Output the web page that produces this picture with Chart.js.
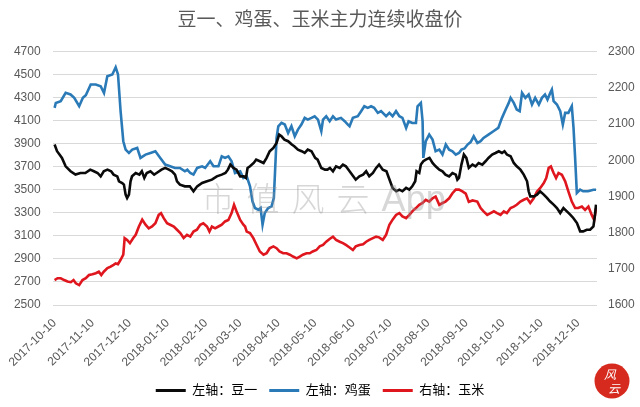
<!DOCTYPE html>
<html>
<head>
<meta charset="utf-8">
<script src="https://cdn.jsdelivr.net/npm/chart.js@4.4.1/dist/chart.umd.min.js"></script>
<style>
  html, body { margin: 0; padding: 0; background: #fff; }
  #wrap { width: 640px; height: 407px; position: relative; }
</style>
</head>
<body>
<div id="wrap"><canvas id="c"></canvas></div>
<script>
// 月度刻度（每月10日）
const tickLabels = ['2017-10-10', '2017-11-10', '2017-12-10', '2018-01-10', '2018-02-10', '2018-03-10', '2018-04-10',
  '2018-05-10', '2018-06-10', '2018-07-10', '2018-08-10', '2018-09-10', '2018-10-10', '2018-11-10', '2018-12-10'];

// 各序列：距 2017-10-10 的天数 + 收盘价
const soyDays = [0, 2, 4, 6, 9, 13, 17, 21, 25, 29, 32, 35, 37.5, 40, 43, 46, 48, 51, 52.4, 55, 56.4, 57.8, 59, 60.5, 61.8, 63, 66, 69, 71, 73, 75, 78, 81, 83, 87, 90, 93, 95.5, 98, 99.6, 102, 106, 110,
  113, 116, 120, 124, 128, 132, 136, 139, 141, 143, 145.5, 148, 151, 154, 155.7, 157, 159, 162, 164, 167, 170, 172.5, 175, 178, 180.6, 182.7, 184.6, 187, 190, 193, 195, 198, 201, 203.5, 206, 209, 212, 214, 217, 220,
  222, 224, 226.5, 229, 232, 234.6, 237, 240, 243, 245, 248, 251, 253.5, 256, 259, 261.6, 264, 267, 270, 272, 275, 278, 280.5, 283, 286, 288.6, 291, 293.4, 294.5, 296.7, 298, 300, 302, 305, 307.5, 310, 313, 315.6, 318, 321, 323.7, 326.4, 327.7, 329,
  331, 333, 335, 337, 340, 342.5, 345, 348, 350.6, 353, 356, 358.7, 361.4, 364, 366, 368, 371, 373.6, 376, 379, 381.7, 384.4, 385.7, 387, 390, 392.5, 395, 398, 400.6, 403, 406, 408.7, 411.4, 414, 416.8, 419.5, 422, 425, 427.6, 430, 433, 435.7, 438.4, 439.7, 440.5];
const soyVals = [3894, 3836, 3807, 3778, 3705, 3662, 3633, 3647, 3647, 3676, 3662, 3647, 3618, 3662, 3676, 3662, 3633, 3618, 3575, 3560, 3546, 3459, 3430, 3459, 3575, 3618, 3647, 3633, 3662, 3604, 3647, 3662, 3633, 3647, 3676, 3691, 3676, 3662, 3633, 3575, 3546, 3531, 3531,
  3488, 3531, 3560, 3575, 3589, 3618, 3633, 3647, 3676, 3720, 3691, 3676, 3618, 3618, 3604, 3691, 3705, 3734, 3763, 3749, 3734, 3778, 3836, 3865, 3908, 3981, 3966, 3937, 3923, 3894, 3879, 3850, 3836, 3821, 3850, 3836, 3778, 3763, 3691, 3676,
  3676, 3691, 3662, 3705, 3691, 3720, 3705, 3662, 3618, 3589, 3618, 3633, 3662, 3618, 3647, 3691, 3720, 3676, 3662, 3604, 3517, 3488, 3502, 3488, 3517, 3502, 3531, 3575, 3662, 3647, 3720, 3749, 3763, 3778, 3734, 3705, 3676, 3662, 3633, 3618, 3647, 3633, 3589, 3604,
  3720, 3807, 3778, 3691, 3720, 3705, 3734, 3720, 3749, 3778, 3807, 3821, 3836, 3821, 3836, 3807, 3792, 3734, 3705, 3676, 3633, 3575, 3488, 3444, 3444, 3459, 3488, 3459, 3430, 3401, 3372, 3343, 3299, 3343, 3314, 3285, 3256, 3212, 3140, 3140, 3154, 3154, 3183, 3285, 3372];

const eggDays = [0, 1, 5, 9, 13, 16, 20, 23, 25.4, 29.4, 33.5, 37.5, 40.2, 42.9, 47, 49.7, 51.6, 53.7, 55.9, 57.8, 60.5, 63.2, 67.2, 69.9, 74, 78, 82, 86, 90, 94, 98, 102, 106,
  108, 110.4, 113, 116, 120, 122.5, 126.6, 129.3, 133.3, 136, 138.7, 141.4, 144, 146.8, 151, 153.6, 156.3, 159, 161, 163, 165.7, 167.6, 169.2, 171, 173.8, 176.5, 178.4, 180.6, 182, 184.6, 187.3, 190, 192.7, 195.4, 198, 200.8, 203.5, 206, 209, 211.6, 214.3, 217, 218.4, 221,
  223.8, 226.5, 229, 233, 236, 238.6, 240, 242.7, 246.7, 249.4, 252, 254.8, 257.5, 260, 263, 265.6, 269.7, 272.4, 275, 277.8, 280.5, 283, 286, 288, 291, 294, 295.3, 298, 299.4, 300, 302, 304.8, 307.5, 310, 313, 315.6, 318.3, 321, 323.7, 326.4, 329,
  331, 333.5, 336, 338.5, 341, 344, 346.6, 349, 353, 357, 361, 364, 367, 369.5, 371, 373.6, 376, 378.4, 380.3, 383, 385.7, 388.4, 391, 394, 396.5, 399, 401, 403.3, 404.6, 406, 408.7, 411.4, 413.5, 415.4, 418, 420.8, 422.2, 423.5, 424.9, 427.6, 430, 434, 438.4, 440.5];
const eggVals = [4213, 4256, 4271, 4343, 4329, 4300, 4227, 4300, 4323, 4416, 4416, 4401, 4343, 4488, 4503, 4566, 4503, 4184, 3923, 3850, 3821, 3850, 3865, 3778, 3807, 3821, 3836, 3778, 3720, 3705, 3691, 3691, 3662,
  3676, 3647, 3633, 3691, 3705, 3691, 3749, 3705, 3705, 3792, 3778, 3792, 3749, 3647, 3662, 3604, 3618, 3531, 3401, 3343, 3328, 3343, 3198, 3299, 3343, 3357, 3430, 3952, 4053, 4082, 4068, 3995, 4053, 3966, 4024, 4068, 4126, 4111, 4126, 4140, 4111, 4010, 4111, 4140,
  4097, 4140, 4111, 4126, 4097, 4068, 4053, 4126, 4140, 4184, 4227, 4213, 4227, 4213, 4169, 4184, 4140, 4169, 4140, 4184, 4140, 4126, 4039, 4097, 4082, 4082, 4227, 4256, 4097, 3778, 3923, 3981, 3937, 3836, 3850, 3807, 3894, 3850, 3836, 3807, 3821,
  3850, 3860, 3894, 3915, 3966, 3908, 3923, 3952, 3981, 4010, 4039, 4126, 4198, 4256, 4300, 4256, 4198, 4184, 4343, 4300, 4329, 4242, 4300, 4242, 4300, 4329, 4285, 4343, 4372, 4271, 4242, 4184, 4068, 4169, 4169, 4227, 4039, 3778, 3473, 3502, 3488, 3488, 3502, 3502];

const cornDays = [0, 2.4, 5, 7.8, 10.5, 13.2, 15.4, 17.3, 20, 22.7, 25.4, 28, 30.8, 33.5, 36, 38, 40, 43, 45.6, 48, 49.7, 51.6, 53.7, 55.9, 57, 59, 61.3, 64, 66, 68.6, 71.3, 74, 76.6, 79.3, 82, 84.7, 86.6, 88.8, 91.5, 94, 97, 99.6, 102.3, 105,
  107.7, 110.4, 113, 115.8, 118.5, 121, 124, 126, 128, 130.6, 133.3, 136, 138.7, 141.4, 144, 146, 148, 151, 153.6, 155, 156.3, 159, 161.7, 164.4, 167, 170, 172.5, 175, 178, 180.6, 183, 186, 188.7, 191.4, 194, 197, 199.5, 202, 205, 207.6, 210, 213, 215.7, 218.4,
  221, 224, 226.5, 229, 232, 234.6, 237, 240, 242.7, 245, 248, 251, 253.5, 256, 259, 261.6, 264, 267, 269.7, 272.4, 275, 277.8, 280.5, 283, 286, 288.6, 291, 294, 296.7, 299.4, 302, 304.8, 307.5, 310, 313, 315.6, 318, 321, 323.7, 326.4, 329, 331.8,
  334.5, 337, 340, 343.9, 346.6, 349, 352, 354.7, 357.4, 360, 362.8, 365.5, 368, 371, 373.6, 376, 379, 381.7, 384.4, 387, 389.8, 392.5, 395, 398, 400, 402, 403.8, 406, 408, 410, 412.7, 415.4, 418, 420.8, 423.5, 426, 429, 431.6, 434.3, 437, 439, 440.5];
const cornVals = [1669, 1674, 1674, 1669, 1665, 1663, 1669, 1660, 1655, 1669, 1674, 1683, 1685, 1688, 1692, 1683, 1692, 1702, 1706, 1711, 1715, 1713, 1725, 1739, 1785, 1780, 1771, 1785, 1794, 1817, 1836, 1822, 1812, 1817, 1826, 1849, 1854, 1840, 1826, 1822, 1817, 1808, 1799, 1785,
  1794, 1789, 1803, 1808, 1822, 1826, 1817, 1803, 1817, 1812, 1817, 1822, 1831, 1835, 1854, 1877, 1859, 1835, 1822, 1817, 1803, 1799, 1785, 1766, 1748, 1739, 1743, 1757, 1762, 1757, 1748, 1743, 1743, 1739, 1734, 1729, 1734, 1739, 1743, 1743, 1748, 1752, 1762, 1766,
  1775, 1783, 1789, 1780, 1775, 1771, 1766, 1759, 1752, 1762, 1766, 1768, 1775, 1780, 1785, 1789, 1787, 1780, 1794, 1822, 1836, 1849, 1854, 1845, 1840, 1849, 1859, 1868, 1877, 1882, 1891, 1886, 1895, 1900, 1877, 1882, 1886, 1895, 1909, 1919, 1919, 1914,
  1908, 1885, 1889, 1886, 1868, 1859, 1849, 1854, 1859, 1854, 1849, 1859, 1854, 1868, 1872, 1877, 1886, 1891, 1895, 1882, 1895, 1914, 1923, 1937, 1951, 1979, 1983, 1965, 1951, 1965, 1960, 1942, 1914, 1886, 1868, 1868, 1872, 1863, 1872, 1849, 1835, 1868];

const DAY0 = Date.UTC(2017, 9, 10);
const dayOf = s => { const p = s.split('-'); return Math.round((Date.UTC(+p[0], +p[1] - 1, +p[2]) - DAY0) / 86400000); };
const tickDays = tickLabels.map(dayOf);
const toPts = (days, vals) => days.map((d, i) => ({ x: d, y: vals[i] }));

const TEXT = '#595959';
Chart.defaults.font.family = "'Liberation Sans', 'Noto Sans CJK SC', sans-serif";
Chart.defaults.color = TEXT;

// 水印 + 角标
const decorPlugin = {
  id: 'decor',
  afterDatasetsDraw(chart) {
    const { ctx, chartArea: a } = chart;
    const y = a.top + a.height * 0.58;
    ctx.save();
    ctx.fillStyle = 'rgba(150,150,150,0.38)';
    ctx.textBaseline = 'middle';
    ctx.textAlign = 'left';
    ctx.font = "300 33px 'Noto Sans CJK SC'";
    ctx.letterSpacing = '12px';
    let x = a.left + 149;
    ctx.fillText('市值风云', x, y);
    x += ctx.measureText('市值风云').width;
    ctx.letterSpacing = '0px';
    ctx.font = "300 36px 'Liberation Sans'";
    ctx.fillText('App', x, y + 2);
    ctx.restore();
  },
  afterDraw(chart) {
    const ctx = chart.ctx;
    const cx = chart.width - 28, cy = chart.height - 26;
    ctx.save();
    ctx.beginPath();
    ctx.arc(cx, cy, 17.5, 0, Math.PI * 2);
    ctx.fillStyle = '#d62a1f';
    ctx.fill();
    ctx.fillStyle = '#fff';
    ctx.textAlign = 'center';
    ctx.textBaseline = 'middle';
    ctx.font = "italic 12px 'Noto Sans CJK SC'";
    ctx.fillText('风', cx - 2, cy - 7);
    ctx.fillText('云', cx + 2, cy + 7);
    ctx.restore();
  }
};

const series = [
  { label: '左轴：豆一', days: soyDays, vals: soyVals, color: '#0a0a0a', axis: 'y' },
  { label: '左轴：鸡蛋', days: eggDays, vals: eggVals, color: '#2a7ab8', axis: 'y' },
  { label: '右轴：玉米', days: cornDays, vals: cornVals, color: '#e0161e', axis: 'y1' }
];

new Chart(document.getElementById('c'), {
  type: 'line',
  data: {
    datasets: series.map(s => ({
      label: s.label,
      data: toPts(s.days, s.vals),
      yAxisID: s.axis,
      borderColor: s.color,
      backgroundColor: s.color,
      borderWidth: 2.6,
      pointRadius: 0,
      tension: 0,
      fill: false
    }))
  },
  options: {
    responsive: true,
    maintainAspectRatio: false,
    animation: false,
    layout: { padding: 0 },
    plugins: {
      title: {
        display: true,
        text: '豆一、鸡蛋、玉米主力连续收盘价',
        color: TEXT,
        font: { size: 19, weight: 'normal' },
        padding: { top: 9, bottom: 20 }
      },
      legend: {
        position: 'bottom',
        labels: {
          boxWidth: 30,
          boxHeight: 3,
          padding: 12,
          color: TEXT,
          font: { size: 13 },
          generateLabels: chart => chart.data.datasets.map((ds, i) => ({
            text: ds.label, fillStyle: ds.borderColor, strokeStyle: ds.borderColor,
            lineWidth: 0, datasetIndex: i, hidden: false
          }))
        }
      },
      tooltip: { enabled: false }
    },
    scales: {
      x: {
        type: 'linear',
        min: -1.6,
        max: 441.3,
        grid: { display: false, drawTicks: false },
        border: { display: false },
        afterBuildTicks: axis => { axis.ticks = tickDays.map(v => ({ value: v })); },
        afterFit: s => { s.height = 67; },
        ticks: {
          autoSkip: false, maxRotation: 45, minRotation: 45, padding: 11,
          font: { size: 12 },
          callback: v => tickLabels[tickDays.indexOf(v)]
        }
      },
      y: {
        position: 'left',
        min: 2500, max: 4700,
        ticks: { stepSize: 200, padding: 12, font: { size: 12 }, callback: v => String(v) },
        grid: { color: '#d9d9d9', drawTicks: false },
        border: { display: false },
        afterFit: s => { s.width = 50; }
      },
      y1: {
        position: 'right',
        min: 1600, max: 2300,
        ticks: { stepSize: 100, padding: 11, font: { size: 12 }, callback: v => String(v) },
        grid: { display: false, drawTicks: false },
        border: { display: false },
        afterFit: s => { s.width = 43; }
      }
    }
  },
  plugins: [decorPlugin]
});
</script>
</body>
</html>
